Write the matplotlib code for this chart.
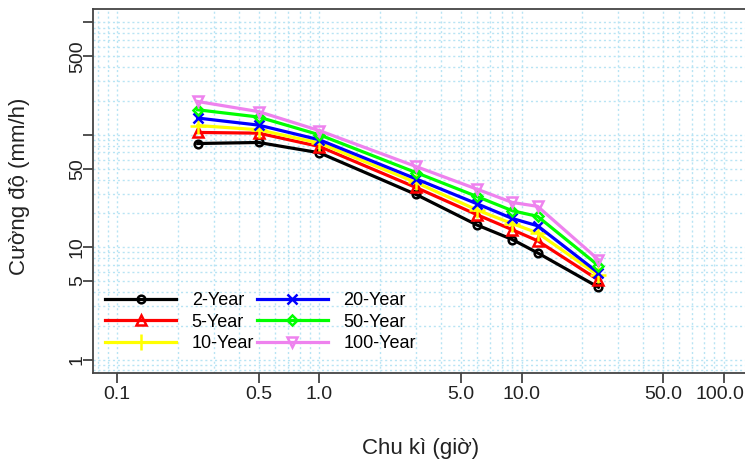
import numpy as np
import matplotlib
matplotlib.use("Agg")
from matplotlib import pyplot as plt
from matplotlib.transforms import ScaledTranslation

plt.rcParams['font.family'] = ['Liberation Sans', 'DejaVu Sans']

# durations (hours)
duration = [0.25, 0.5, 1, 3, 6, 9, 12, 24]

# intensity (mm/h) per return period
y2 = [83.7, 85.5, 69.2, 29.5, 15.8, 11.7, 8.9, 4.4]
y5 = [105, 103.5, 78.7, 34.0, 19.5, 14.3, 11.4, 5.1]
y10 = [121, 111, 84.4, 37.7, 21.5, 16.2, 13.4, 5.6]
y20 = [141, 122, 90.3, 40.6, 24.4, 18.0, 15.5, 5.9]
y50 = [167, 144, 100, 46.2, 28.3, 21.1, 18.8, 6.85]
y100 = [198, 161, 109, 52.3, 32.9, 25.0, 23.1, 7.74]

labels = ['2-Year', '5-Year', '10-Year', '20-Year', '50-Year', '100-Year']
colors = ['black', '#FF0000', '#FFFF00', '#0000FF', '#00FF00', '#EE82EE']
markers = ['o', '^', '+', 'x', 'D', 'v']
msizes = [5.5, 7, 11, 7, 5.5, 7.5]

xticks = [0.1, 0.5, 1.0, 5.0, 10.0, 50.0, 100.0]
xticklabels = ['0.1', '0.5', '1.0', '5.0', '10.0', '50.0', '100.0']
yticks = [1, 5, 10, 50, 100, 500, 1000]
yticklabels = ['1', '5', '10', '50', '', '500', '']

W, H = 745, 461
fig = plt.figure(figsize=(W / 100, H / 100), dpi=100)
ax = fig.add_axes([93 / W, (H - 373) / H, (748 - 93) / W, (373 - 9) / H])
ax.set_xscale('log')
ax.set_yscale('log')
ax.set_xlim(10 ** -1.12, 10 ** 2.12)
ax.set_ylim(10 ** -0.12, 10 ** 3.12)

# grid at every log step
grid_vals = []
for d in range(-2, 4):
    for m in range(1, 10):
        grid_vals.append(m * 10.0 ** d)
for g in grid_vals:
    ax.axvline(g, color='#B8E4F4', lw=1, ls=(0, (1.5, 2)), zorder=0)
    ax.axhline(g, color='#B8E4F4', lw=1, ls=(0, (1.5, 2)), zorder=0)

series = [y2, y5, y10, y20, y50, y100]
for ys, lab, c, mk, ms in zip(series, labels, colors, markers, msizes):
    ax.plot(duration, ys, color=c, lw=2.3, marker=mk, ms=ms, mfc='none',
            mew=1.8, label=lab, zorder=3)

ax.set_xticks(xticks, xticklabels)
ax.set_xticks([], minor=True)
ax.set_yticks(yticks, yticklabels)
ax.set_yticks([], minor=True)
for t in ax.get_yticklabels():
    t.set_rotation(90)
    t.set_va('center')
ax.tick_params(axis='both', length=7.2, width=1.2, color='#333333',
               labelsize=14, labelcolor='#222222')
ax.tick_params(axis='y', pad=-2)
ax.tick_params(axis='x', pad=2.5)

# keep "100.0" inside the picture
last = ax.get_xticklabels()[-1]
last.set_transform(last.get_transform() + ScaledTranslation(-4 / 100, 0, fig.dpi_scale_trans))

for s in ['left', 'bottom', 'top']:
    ax.spines[s].set_color('#444444')
    ax.spines[s].set_linewidth(1.3)
ax.spines['right'].set_visible(False)

fig.text(421 / W, 1 - 448 / H, 'Chu kì (giờ)', ha='center', va='center',
         fontsize=16, color='#222222')
fig.text(20 / W, 1 - 186 / H, 'Cường độ (mm/h)', ha='center', va='center',
         rotation=90, fontsize=16, color='#222222')

ax.legend(loc='upper left', bbox_to_anchor=(105 / W, 1 - 292 / H),
          bbox_transform=fig.transFigure, ncol=2, frameon=False,
          fontsize=13, handlelength=3.95, handletextpad=0.85,
          columnspacing=0.15, labelspacing=0.25, borderpad=0,
          borderaxespad=0)

fig.savefig('out.png', dpi=100)
